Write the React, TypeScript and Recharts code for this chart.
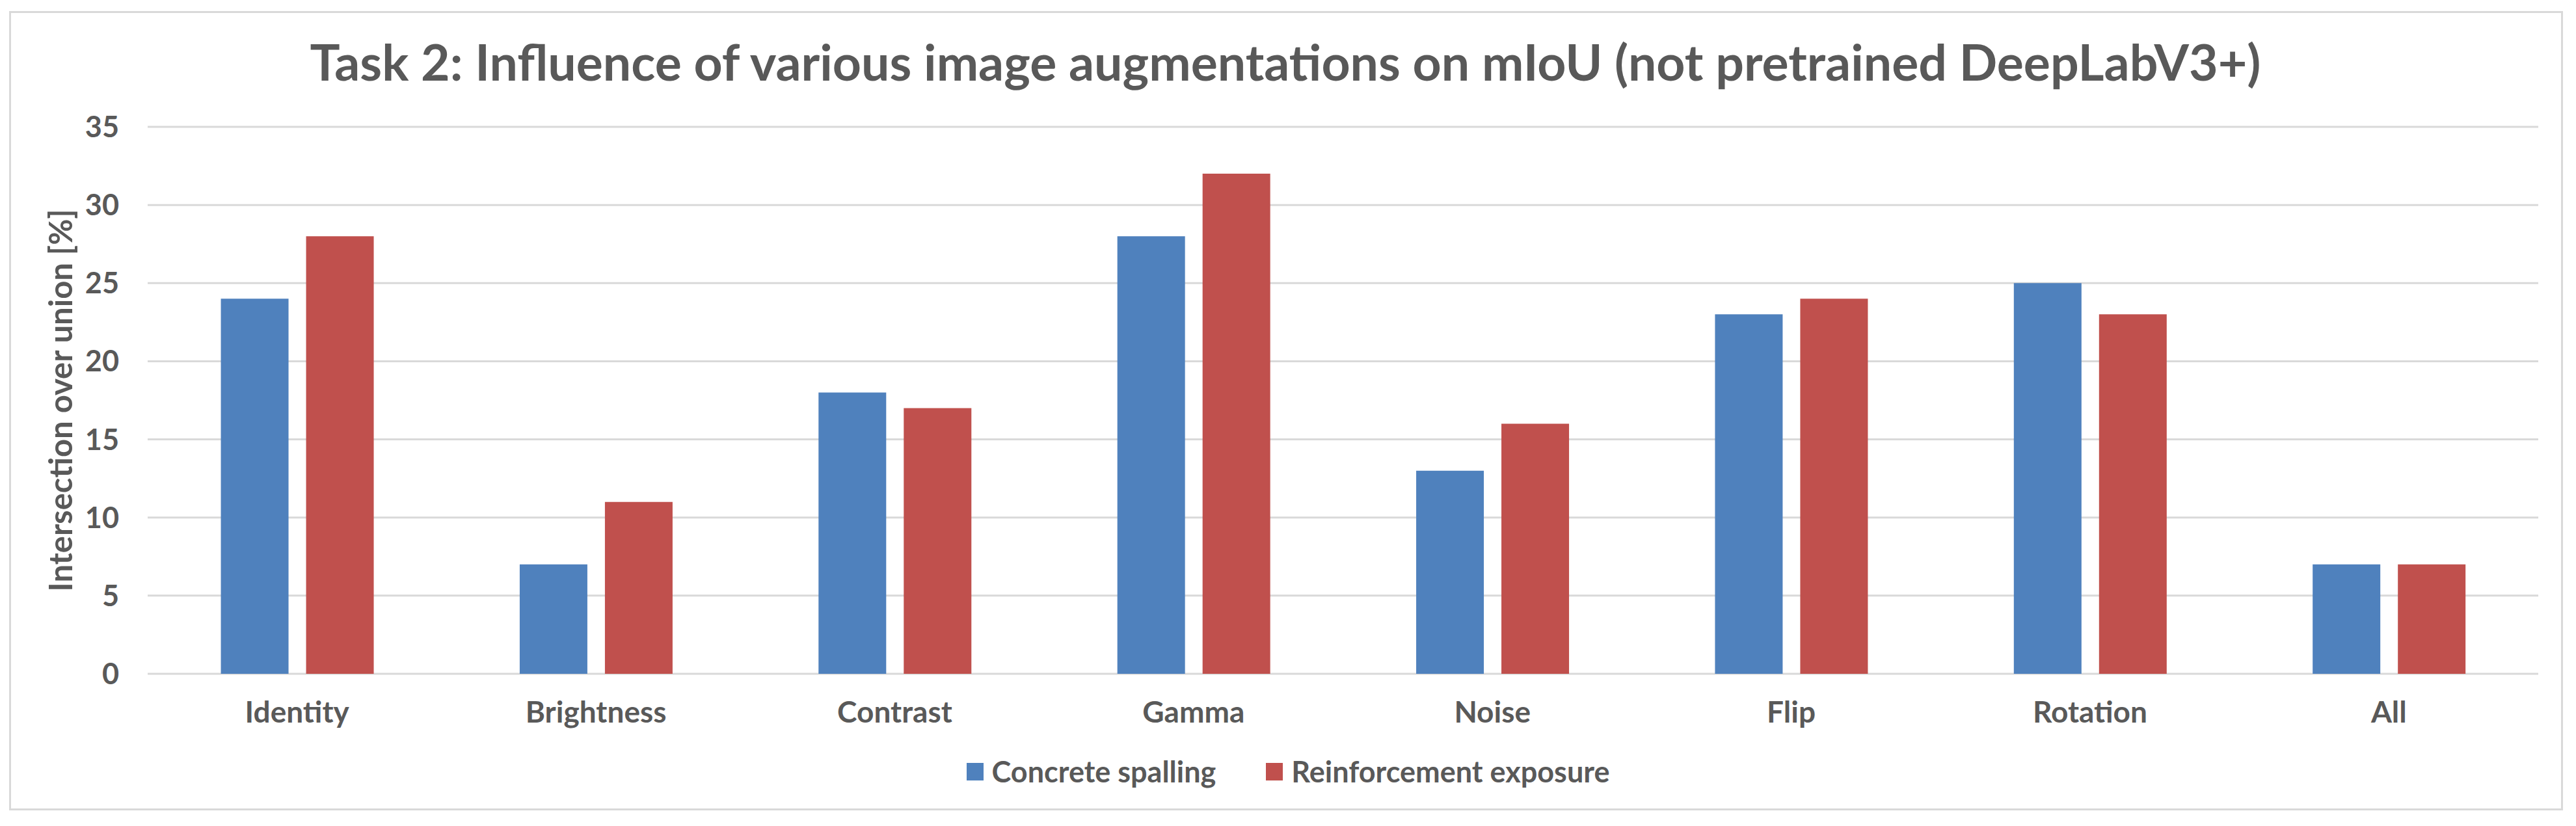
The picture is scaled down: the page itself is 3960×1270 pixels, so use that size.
import { Bar, BarChart, CartesianGrid, Legend, XAxis, YAxis } from 'recharts';

const categories = ['Identity', 'Brightness', 'Contrast', 'Gamma', 'Noise', 'Flip', 'Rotation', 'All'];
const concreteSpalling = [24, 7, 18, 28, 13, 23, 25, 7];
const reinforcementExposure = [28, 11, 17, 32, 16, 24, 23, 7];
const yTicks = [0, 5, 10, 15, 20, 25, 30, 35];

const seriesNames = {
  spalling: 'Concrete spalling',
  exposure: 'Reinforcement exposure',
};

const data = categories.map((name, i) => ({
  name,
  spalling: concreteSpalling[i],
  exposure: reinforcementExposure[i],
}));

const FONT = 'Lato, "Open Sans", sans-serif';
const TEXT = '#595959';
const GRID = '#d9d9d9';
const BLUE = '#4f81bd';
const RED = '#c0504d';

function LegendContent() {
  const items = [
    { label: seriesNames.spalling, color: BLUE },
    { label: seriesNames.exposure, color: RED },
  ];
  return (
    <div
      style={{
        display: 'flex',
        justifyContent: 'center',
        alignItems: 'center',
        fontFamily: FONT,
        fontWeight: 700,
        fontSize: 45,
        color: TEXT,
        lineHeight: 1,
      }}
    >
      {items.map((it, i) => (
        <div key={it.label} style={{ display: 'flex', alignItems: 'center', marginLeft: i ? 77 : 0 }}>
          <span style={{ width: 26, height: 27, background: it.color, marginRight: 13 }} />
          <span>{it.label}</span>
        </div>
      ))}
    </div>
  );
}

function AxisTitle(props: any) {
  const { viewBox } = props;
  const cx = viewBox.x - 35;
  const cy = viewBox.y + viewBox.height / 2;
  return (
    <text
      x={cx}
      y={cy}
      transform={`rotate(-90, ${cx}, ${cy})`}
      textAnchor="middle"
      dominantBaseline="central"
      fill={TEXT}
      fontFamily={FONT}
      fontWeight={700}
      fontSize={49}
    >
      Intersection over union [%]
    </text>
  );
}

export default function App() {
  return (
    <div style={{ position: 'absolute', left: 0, top: 0, width: 3960, height: 1270, background: '#fff' }}>
      <div
        style={{
          position: 'absolute',
          left: 14,
          top: 17,
          width: 3926,
          height: 1229,
          boxSizing: 'border-box',
          border: `3px solid ${GRID}`,
        }}
      />
      <div
        style={{
          position: 'absolute',
          left: -4,
          top: 56,
          width: 3960,
          textAlign: 'center',
          fontFamily: FONT,
          fontWeight: 700,
          fontSize: 77,
          lineHeight: 1,
          color: TEXT,
          whiteSpace: 'nowrap',
        }}
      >
        Task 2: Influence of various image augmentations on mIoU (not pretrained DeepLabV3+)
      </div>
      <div style={{ position: 'absolute', left: 0, top: 0 }}>
        <BarChart
          width={3960}
          height={1270}
          data={data}
          margin={{ top: 195, right: 58, left: 127, bottom: 204 }}
          barCategoryGap="24.5%"
          barGap={27}
        >
          <CartesianGrid vertical={false} stroke={GRID} strokeWidth={3} />
          <XAxis
            dataKey="name"
            height={30}
            axisLine={false}
            tickLine={false}
            tickSize={0}
            tickMargin={42}
            interval={0}
            tick={{ fill: TEXT, fontFamily: FONT, fontWeight: 700, fontSize: 46 }}
          />
          <YAxis
            width={100}
            domain={[0, 35]}
            ticks={yTicks}
            axisLine={false}
            tickLine={false}
            tickSize={0}
            tickMargin={44}
            tick={{ fill: TEXT, fontFamily: FONT, fontWeight: 700, fontSize: 45 }}
            label={<AxisTitle />}
          />
          <Legend
            layout="horizontal"
            verticalAlign="middle"
            align="center"
            wrapperStyle={{ top: 1164, left: 0, width: 3960 }}
            content={<LegendContent />}
          />
          <Bar dataKey="spalling" name={seriesNames.spalling} fill={BLUE} isAnimationActive={false} />
          <Bar dataKey="exposure" name={seriesNames.exposure} fill={RED} isAnimationActive={false} />
        </BarChart>
      </div>
    </div>
  );
}
